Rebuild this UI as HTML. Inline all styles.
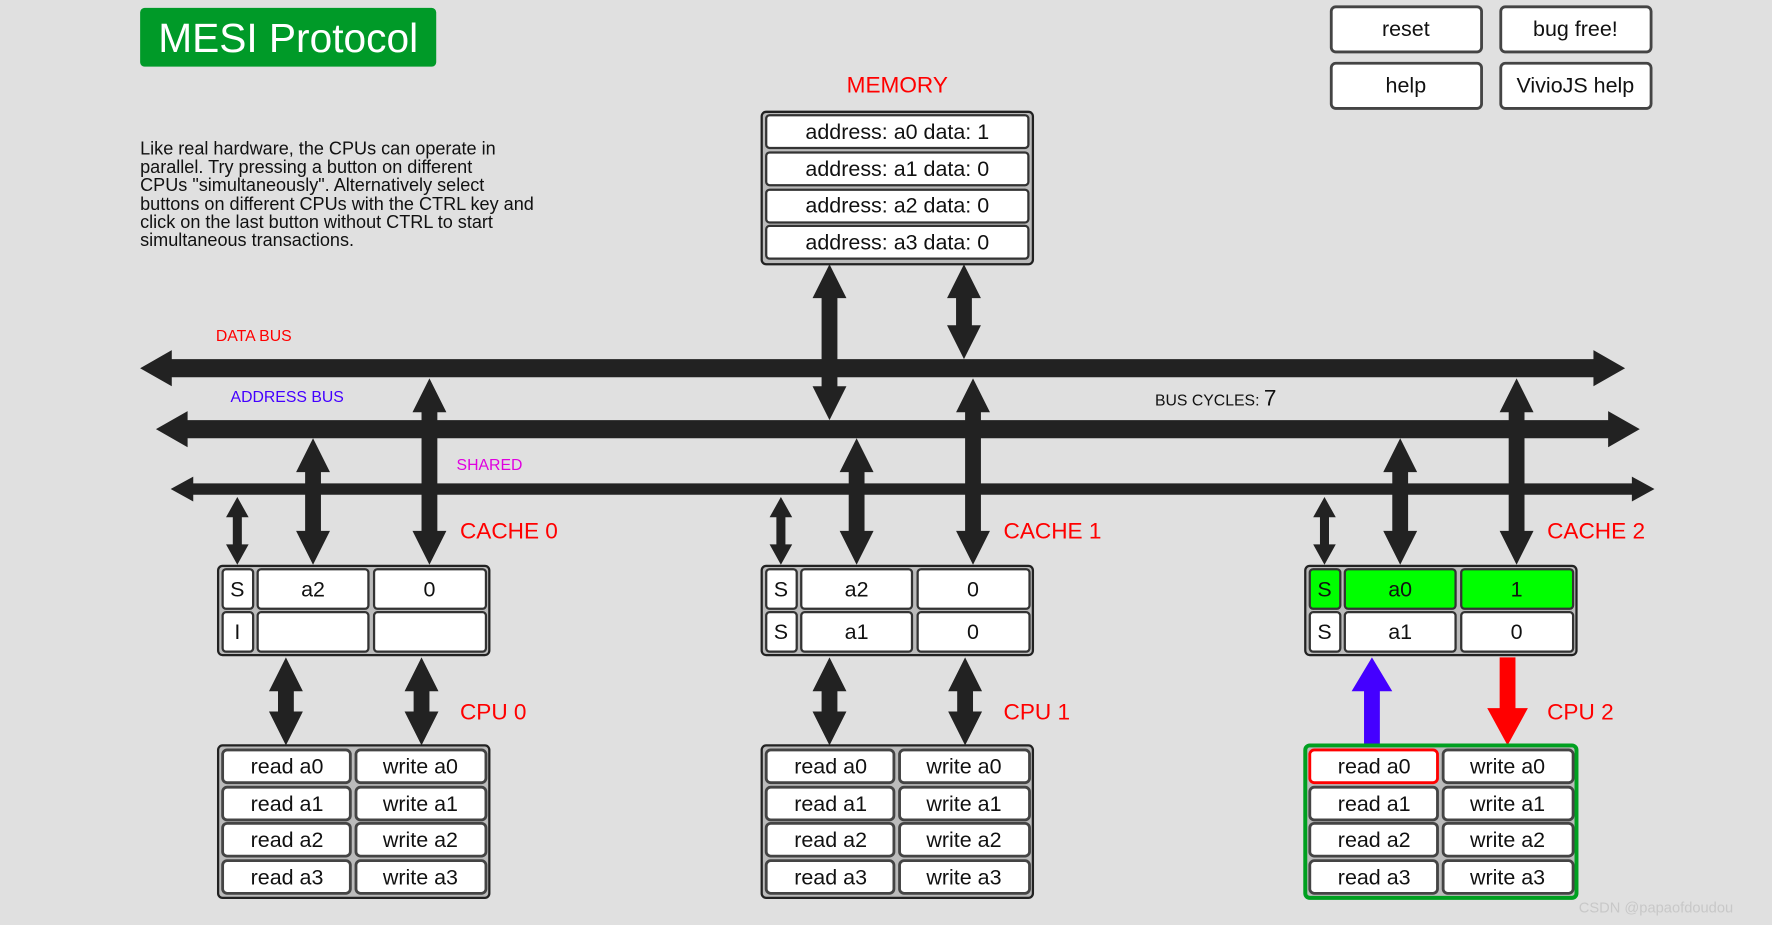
<!DOCTYPE html>
<html><head><meta charset="utf-8"><style>
html,body{margin:0;padding:0;background:#e0e0e0;}
svg{display:block;font-family:"Liberation Sans",sans-serif;}
</style></head><body>
<svg width="1772" height="925" viewBox="0 0 1568 819" preserveAspectRatio="none" xmlns="http://www.w3.org/2000/svg">
<rect x="0" y="0" width="1568" height="819" fill="#e0e0e0"/>
<rect x="124" y="7" width="262" height="52" rx="4" fill="#009a28"/>
<text x="255" y="46" font-size="36" fill="#fff" text-anchor="middle">MESI Protocol</text>
<g font-size="16" fill="#111">
<text x="124" y="137">Like real hardware, the CPUs can operate in</text>
<text x="124" y="153">parallel. Try pressing a button on different</text>
<text x="124" y="169">CPUs "simultaneously". Alternatively select</text>
<text x="124" y="186">buttons on different CPUs with the CTRL key and</text>
<text x="124" y="202">click on the last button without CTRL to start</text>
<text x="124" y="218">simultaneous transactions.</text>
</g>
<g fill="#fff" stroke="#444" stroke-width="2.5">
<rect x="1178" y="6" width="133" height="40" rx="4"/>
<rect x="1328" y="6" width="133" height="40" rx="4"/>
<rect x="1178" y="56" width="133" height="40" rx="4"/>
<rect x="1328" y="56" width="133" height="40" rx="4"/>
</g>
<g font-size="19" fill="#111" text-anchor="middle">
<text x="1244" y="32">reset</text>
<text x="1394" y="32">bug free!</text>
<text x="1244" y="82">help</text>
<text x="1394" y="82">VivioJS help</text>
</g>
<text x="794" y="82" font-size="20" fill="#f00" text-anchor="middle">MEMORY</text>
<rect x="674" y="99" width="240" height="135" rx="4" fill="#bbb" stroke="#222" stroke-width="2"/>
<g fill="#fff" stroke="#333" stroke-width="2">
<rect x="678" y="102" width="232" height="29" rx="3"/>
<rect x="678" y="135" width="232" height="29" rx="3"/>
<rect x="678" y="168" width="232" height="29" rx="3"/>
<rect x="678" y="200" width="232" height="29" rx="3"/>
</g>
<g font-size="19" fill="#111" text-anchor="middle">
<text x="794" y="123">address: a0 data: 1</text>
<text x="794" y="156">address: a1 data: 0</text>
<text x="794" y="188">address: a2 data: 0</text>
<text x="794" y="221">address: a3 data: 0</text>
</g>
<text x="191" y="302" font-size="14" fill="#f00">DATA BUS</text>
<text x="204" y="356" font-size="14" fill="#4400ff">ADDRESS BUS</text>
<text x="404" y="416" font-size="14" fill="#e000e0">SHARED</text>
<text x="1022" y="359" font-size="14" fill="#111">BUS CYCLES: <tspan font-size="20">7</tspan></text>
<g fill="#222">
<polygon points="124,326 152,310 152,318 1410,318 1410,310 1438,326 1410,342 1410,334 152,334 152,342"/>
<polygon points="138,380 166,364 166,372 1423,372 1423,364 1451,380 1423,396 1423,388 166,388 166,396"/>
<polygon points="151,433 171,422 171,428 1444,428 1444,422 1464,433 1444,444 1444,438 171,438 171,444"/>
<polygon points="734,234 749,264 741,264 741,342 749,342 734,372 719,342 727,342 727,264 719,264"/>
<polygon points="853,234 868,264 860,264 860,288 868,288 853,318 838,288 846,288 846,264 838,264"/>
</g>
<g>
<g fill="#222">
<polygon points="380,335 395,365 387,365 387,470 395,470 380,500 365,470 373,470 373,365 365,365"/>
<polygon points="277,388 292,418 284,418 284,470 292,470 277,500 262,470 270,470 270,418 262,418"/>
<polygon points="210,440 220,458 214,458 214,482 220,482 210,500 200,482 206,482 206,458 200,458"/>
<polygon points="253,582 268,612 260,612 260,630 268,630 253,660 238,630 246,630 246,612 238,612"/>
<polygon points="373,582 388,612 380,612 380,630 388,630 373,660 358,630 366,630 366,612 358,612"/>
</g>
<rect x="193" y="501" width="240" height="79" rx="4" fill="#bbb" stroke="#222" stroke-width="2"/>
<g fill="#fff" stroke="#333" stroke-width="2">
<rect x="197" y="504" width="27" height="35" rx="3"/><rect x="228" y="504" width="98" height="35" rx="3"/><rect x="331" y="504" width="99" height="35" rx="3"/>
<rect x="197" y="542" width="27" height="35" rx="3"/><rect x="228" y="542" width="98" height="35" rx="3"/><rect x="331" y="542" width="99" height="35" rx="3"/>
</g>
<g font-size="19" fill="#111" text-anchor="middle">
<text x="210" y="528">S</text><text x="277" y="528">a2</text><text x="380" y="528">0</text>
<text x="210" y="566">I</text>
</g>
<text x="407" y="477" font-size="20" fill="#f00">CACHE 0</text>
<text x="407" y="637" font-size="20" fill="#f00">CPU 0</text>
<rect x="193" y="660" width="240" height="135" rx="4" fill="#bbb" stroke="#222" stroke-width="2"/>
<g fill="#fff" stroke="#444" stroke-width="2.5">
<rect x="197" y="664" width="113" height="29" rx="4"/><rect x="315" y="664" width="115" height="29" rx="4"/>
<rect x="197" y="697" width="113" height="29" rx="4"/><rect x="315" y="697" width="115" height="29" rx="4"/>
<rect x="197" y="729" width="113" height="29" rx="4"/><rect x="315" y="729" width="115" height="29" rx="4"/>
<rect x="197" y="762" width="113" height="29" rx="4"/><rect x="315" y="762" width="115" height="29" rx="4"/>
</g>
<g font-size="19" fill="#111" text-anchor="middle">
<text x="254" y="685">read a0</text><text x="372" y="685">write a0</text>
<text x="254" y="718">read a1</text><text x="372" y="718">write a1</text>
<text x="254" y="750">read a2</text><text x="372" y="750">write a2</text>
<text x="254" y="783">read a3</text><text x="372" y="783">write a3</text>
</g>
</g>
<g transform="translate(481,0)">
<g fill="#222">
<polygon points="380,335 395,365 387,365 387,470 395,470 380,500 365,470 373,470 373,365 365,365"/>
<polygon points="277,388 292,418 284,418 284,470 292,470 277,500 262,470 270,470 270,418 262,418"/>
<polygon points="210,440 220,458 214,458 214,482 220,482 210,500 200,482 206,482 206,458 200,458"/>
<polygon points="253,582 268,612 260,612 260,630 268,630 253,660 238,630 246,630 246,612 238,612"/>
<polygon points="373,582 388,612 380,612 380,630 388,630 373,660 358,630 366,630 366,612 358,612"/>
</g>
<rect x="193" y="501" width="240" height="79" rx="4" fill="#bbb" stroke="#222" stroke-width="2"/>
<g fill="#fff" stroke="#333" stroke-width="2">
<rect x="197" y="504" width="27" height="35" rx="3"/><rect x="228" y="504" width="98" height="35" rx="3"/><rect x="331" y="504" width="99" height="35" rx="3"/>
<rect x="197" y="542" width="27" height="35" rx="3"/><rect x="228" y="542" width="98" height="35" rx="3"/><rect x="331" y="542" width="99" height="35" rx="3"/>
</g>
<g font-size="19" fill="#111" text-anchor="middle">
<text x="210" y="528">S</text><text x="277" y="528">a2</text><text x="380" y="528">0</text>
<text x="210" y="566">S</text><text x="277" y="566">a1</text><text x="380" y="566">0</text>
</g>
<text x="407" y="477" font-size="20" fill="#f00">CACHE 1</text>
<text x="407" y="637" font-size="20" fill="#f00">CPU 1</text>
<rect x="193" y="660" width="240" height="135" rx="4" fill="#bbb" stroke="#222" stroke-width="2"/>
<g fill="#fff" stroke="#444" stroke-width="2.5">
<rect x="197" y="664" width="113" height="29" rx="4"/><rect x="315" y="664" width="115" height="29" rx="4"/>
<rect x="197" y="697" width="113" height="29" rx="4"/><rect x="315" y="697" width="115" height="29" rx="4"/>
<rect x="197" y="729" width="113" height="29" rx="4"/><rect x="315" y="729" width="115" height="29" rx="4"/>
<rect x="197" y="762" width="113" height="29" rx="4"/><rect x="315" y="762" width="115" height="29" rx="4"/>
</g>
<g font-size="19" fill="#111" text-anchor="middle">
<text x="254" y="685">read a0</text><text x="372" y="685">write a0</text>
<text x="254" y="718">read a1</text><text x="372" y="718">write a1</text>
<text x="254" y="750">read a2</text><text x="372" y="750">write a2</text>
<text x="254" y="783">read a3</text><text x="372" y="783">write a3</text>
</g>
</g>
<g transform="translate(962,0)">
<g fill="#222">
<polygon points="380,335 395,365 387,365 387,470 395,470 380,500 365,470 373,470 373,365 365,365"/>
<polygon points="277,388 292,418 284,418 284,470 292,470 277,500 262,470 270,470 270,418 262,418"/>
<polygon points="210,440 220,458 214,458 214,482 220,482 210,500 200,482 206,482 206,458 200,458"/>
</g>
<polygon fill="#4400ff" points="252,582 270,612 259,612 259,660 245,660 245,612 234,612"/>
<polygon fill="#ff0000" points="365,582 379,582 379,627 390,627 372,660 354,627 365,627"/>
<rect x="193" y="501" width="240" height="79" rx="4" fill="#bbb" stroke="#222" stroke-width="2"/>
<g stroke="#333" stroke-width="2">
<rect x="197" y="504" width="27" height="35" rx="3" fill="#00ff00"/><rect x="228" y="504" width="98" height="35" rx="3" fill="#00ff00"/><rect x="331" y="504" width="99" height="35" rx="3" fill="#00ff00"/>
<rect x="197" y="542" width="27" height="35" rx="3" fill="#fff"/><rect x="228" y="542" width="98" height="35" rx="3" fill="#fff"/><rect x="331" y="542" width="99" height="35" rx="3" fill="#fff"/>
</g>
<g font-size="19" fill="#111" text-anchor="middle">
<text x="210" y="528">S</text><text x="277" y="528">a0</text><text x="380" y="528">1</text>
<text x="210" y="566">S</text><text x="277" y="566">a1</text><text x="380" y="566">0</text>
</g>
<text x="407" y="477" font-size="20" fill="#f00">CACHE 2</text>
<text x="407" y="637" font-size="20" fill="#f00">CPU 2</text>
<rect x="193" y="660" width="240" height="135" rx="4" fill="#bbb" stroke="#00a020" stroke-width="3.5"/>
<g fill="#fff" stroke="#444" stroke-width="2.5">
<rect x="197" y="664" width="113" height="29" rx="4" stroke="#f00"/><rect x="315" y="664" width="115" height="29" rx="4"/>
<rect x="197" y="697" width="113" height="29" rx="4"/><rect x="315" y="697" width="115" height="29" rx="4"/>
<rect x="197" y="729" width="113" height="29" rx="4"/><rect x="315" y="729" width="115" height="29" rx="4"/>
<rect x="197" y="762" width="113" height="29" rx="4"/><rect x="315" y="762" width="115" height="29" rx="4"/>
</g>
<g font-size="19" fill="#111" text-anchor="middle">
<text x="254" y="685">read a0</text><text x="372" y="685">write a0</text>
<text x="254" y="718">read a1</text><text x="372" y="718">write a1</text>
<text x="254" y="750">read a2</text><text x="372" y="750">write a2</text>
<text x="254" y="783">read a3</text><text x="372" y="783">write a3</text>
</g>
</g>
<text x="1397" y="808" font-size="13" fill="#c8c8c8">CSDN @papaofdoudou</text>
</svg>
</body></html>
